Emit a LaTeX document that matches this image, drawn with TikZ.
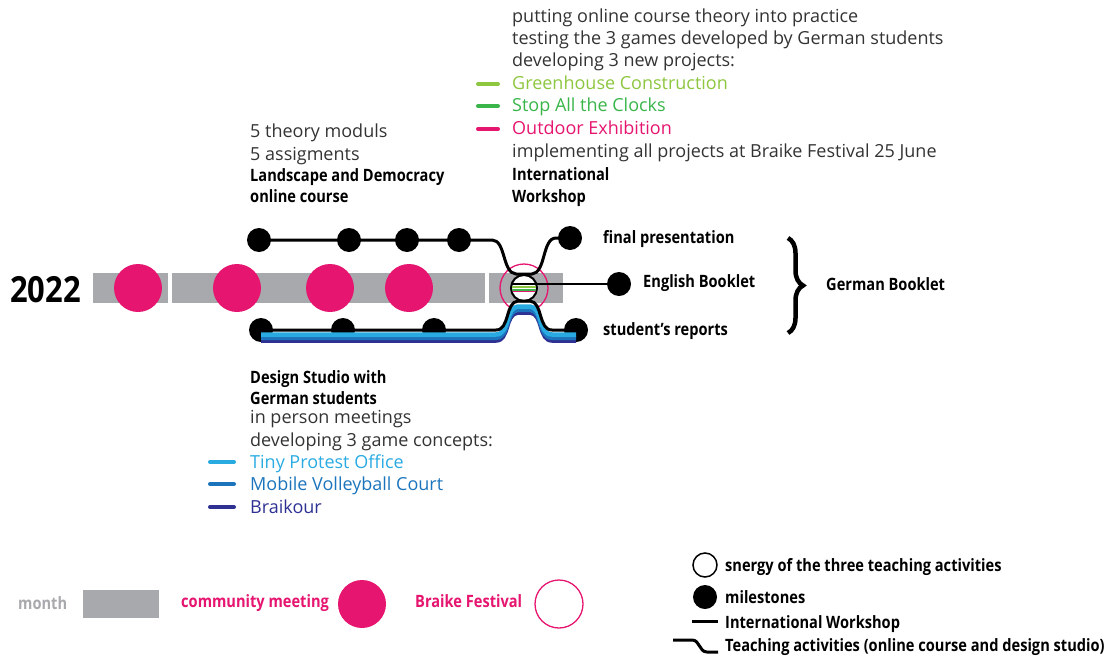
\documentclass[tikz,border=0pt]{standalone}
\usepackage{fontspec}
\setmainfont{Open Sans}
\newfontfamily\cond{Open Sans}[FakeStretch=0.86]
\usetikzlibrary{decorations.pathreplacing}
\definecolor{pinkc}{HTML}{E6156F}
\definecolor{grayc}{HTML}{A7A9AC}
\definecolor{lgreen}{HTML}{8DC63F}
\definecolor{dgreen}{HTML}{39B54A}
\definecolor{lblue}{HTML}{29ABE2}
\definecolor{mblue}{HTML}{1C75BC}
\definecolor{nblue}{HTML}{2E3192}
\definecolor{txt}{HTML}{333333}
\tikzset{
  reg/.style={anchor=base west, inner sep=0pt, text=txt, font=\fontsize{18}{22}\selectfont},
  bld/.style={anchor=base west, inner sep=0pt, text=black, font=\cond\bfseries\fontsize{17}{20}\selectfont},
  dot/.style={circle, fill=black, minimum size=24pt, inner sep=0pt},
  meet/.style={circle, fill=pinkc, minimum size=48pt, inner sep=0pt},
  month/.style={fill=grayc, draw=none},
  leg/.style={line width=4pt, line cap=round},
  teach/.style={line width=3pt, black, line join=round},
}
\begin{document}
\begin{tikzpicture}[x=1pt,y=-1pt]
\useasboundingbox (0,0) rectangle (1111,659);
% year
\node[anchor=base west, inner sep=0pt, font=\cond\bfseries\fontsize{36}{40}\selectfont] (year) at (10,302) {2022};
% month bar
\fill[month] (93,273) rectangle (168,303);
\fill[month] (172,273) rectangle (485,303);
\fill[month] (489,273) rectangle (563,303);
% community meetings
\node[meet] (m1) at (138,288) {};
\node[meet] (m2) at (237,288) {};
\node[meet] (m3) at (330,288) {};
\node[meet] (m4) at (409,288) {};
% festival
\node[circle, draw=pinkc, line width=1.3pt, minimum size=48pt, inner sep=0pt] (fest) at (524,288) {};
% milestones
\node[dot] (t1) at (259,240) {};
\node[dot] (t2) at (349,240) {};
\node[dot] (t3) at (407,240) {};
\node[dot] (t4) at (459,240) {};
\node[dot] (t5) at (570,238) {};
\node[dot] (b1) at (261,330) {};
\node[dot] (b2) at (343,330) {};
\node[dot] (b3) at (434,330) {};
\node[dot] (b4) at (576,330) {};
\node[dot] (e1) at (619,284) {};
% blue bands
\foreach \c/\s/\w in {nblue/11/3.5, mblue/8/4, lblue/4.5/4.5} {
  \draw[line width=\w pt, \c, line join=round, yshift=-\s pt]
    ([yshift=-\s pt]b1.center) -- (496,330) .. controls (510,330) and (505,303) .. (518,302) -- (530,302)
    .. controls (543,303) and (538,330) .. (552,330) -- ([yshift=-\s pt]b4.center);
}
% synergy circle
\node[circle, draw=black, fill=white, line width=2pt, minimum size=26pt, inner sep=0pt] (syn) at (524,288) {};
\begin{scope}
\clip (524,288) circle (12pt);
\draw[line width=2.5pt, lgreen] (510,287) -- (538,287);
\draw[line width=2pt, dgreen] (510,289.5) -- (538,289.5);
\draw[line width=1.2pt, pinkc] (510,291.5) -- (538,291.5);
\end{scope}
% teaching lines
\draw[teach] (t1.center) -- (t4.center) -- (492,240) .. controls (506,240) and (502,273) .. (516,274) -- (532,274)
   .. controls (546,273) and (542,238) .. (556,238) -- (t5.center);
\draw[teach] (b1.center) -- (b3.center) -- (496,330) .. controls (510,330) and (505,302) .. (518,301) -- (530,301)
    .. controls (543,302) and (538,330) .. (552,330) -- (b4.center);
% workshop line
\draw[line width=2.5pt] (512,284) -- (e1.center);
% right labels
\node[bld] (fp) at (603,243) {final presentation};
\node[bld] (eb) at (643,287) {English Booklet};
\node[bld] (sr) at (603,335) {student’s reports};
\draw[line width=4.5pt, decorate, decoration={brace, amplitude=15pt}] (788,238) -- (788,333);
\node[bld] (gb) at (826,290) {German Booklet};
% top texts
\node[reg] (w1) at (512,22) {putting online course theory into practice};
\node[reg] (w2) at (512,44) {testing the 3 games developed by German students};
\node[reg] (w3) at (512,66) {developing 3 new projects:};
\node[reg, text=lgreen] (w4) at (512,89) {Greenhouse Construction};
\node[reg, text=dgreen] (w5) at (512,111) {Stop All the Clocks};
\node[reg, text=pinkc] (w6) at (512,134) {Outdoor Exhibition};
\node[reg] (w7) at (512,157) {implementing all projects at Braike Festival 25 June};
\node[bld] (w8) at (512,180) {International};
\node[bld] (w9) at (512,202) {Workshop};
\draw[leg, lgreen] (478,84) -- (498,84);
\draw[leg, dgreen] (478,106) -- (498,106);
\draw[leg, pinkc] (478,129) -- (498,129);
\node[reg] (o1) at (250,137) {5 theory moduls};
\node[reg] (o2) at (250,160) {5 assigments};
\node[bld] (o3) at (250,181) {Landscape and Democracy};
\node[bld] (o4) at (250,202) {online course};
% bottom texts
\node[bld] (d1) at (250,383) {Design Studio with};
\node[bld] (d2) at (250,404) {German students};
\node[reg] (d3) at (250,423) {in person meetings};
\node[reg] (d4) at (250,446) {developing 3 game concepts:};
\node[reg, text=lblue] (d5) at (250,468) {Tiny Protest Office};
\node[reg, text=mblue] (d6) at (250,490) {Mobile Volleyball Court};
\node[reg, text=nblue] (d7) at (250,513) {Braikour};
\draw[leg, lblue] (210,462) -- (234,462);
\draw[leg, mblue] (210,484) -- (234,484);
\draw[leg, nblue] (210,507) -- (234,507);
% legend bottom
\node[bld, text=grayc] (lm) at (18,609) {month};
\fill[month] (83,590) rectangle (159,618);
\node[bld, text=pinkc] (lc) at (181,607) {community meeting};
\node[meet] (lcc) at (362,604) {};
\node[bld, text=pinkc] (lf) at (415,607) {Braike Festival};
\node[circle, draw=pinkc, line width=1.3pt, minimum size=48pt, inner sep=0pt] (lfc) at (559,604) {};
% legend right
\node[circle, draw=black, line width=1.5pt, minimum size=24pt, inner sep=0pt] (ls) at (705,565) {};
\node[bld] (lst) at (725,571) {snergy of the three teaching activities};
\node[dot] (lmd) at (705,597) {};
\node[bld] (lmt) at (725,603) {milestones};
\coordinate (lw1) at (692,621);
\coordinate (lw2) at (718,621);
\draw[line width=3pt] (lw1) -- (lw2);
\node[bld] (lwt) at (725,628) {International Workshop};
\coordinate (lt1) at (673,640);
\coordinate (lt2) at (718,652);
\draw[teach] (lt1) -- (692,640) .. controls (700,640) and (699,652) .. (707,652) -- (lt2);
\node[bld] (ltt) at (725,651) {Teaching activities (online course and design studio)};
\end{tikzpicture}
\end{document}
